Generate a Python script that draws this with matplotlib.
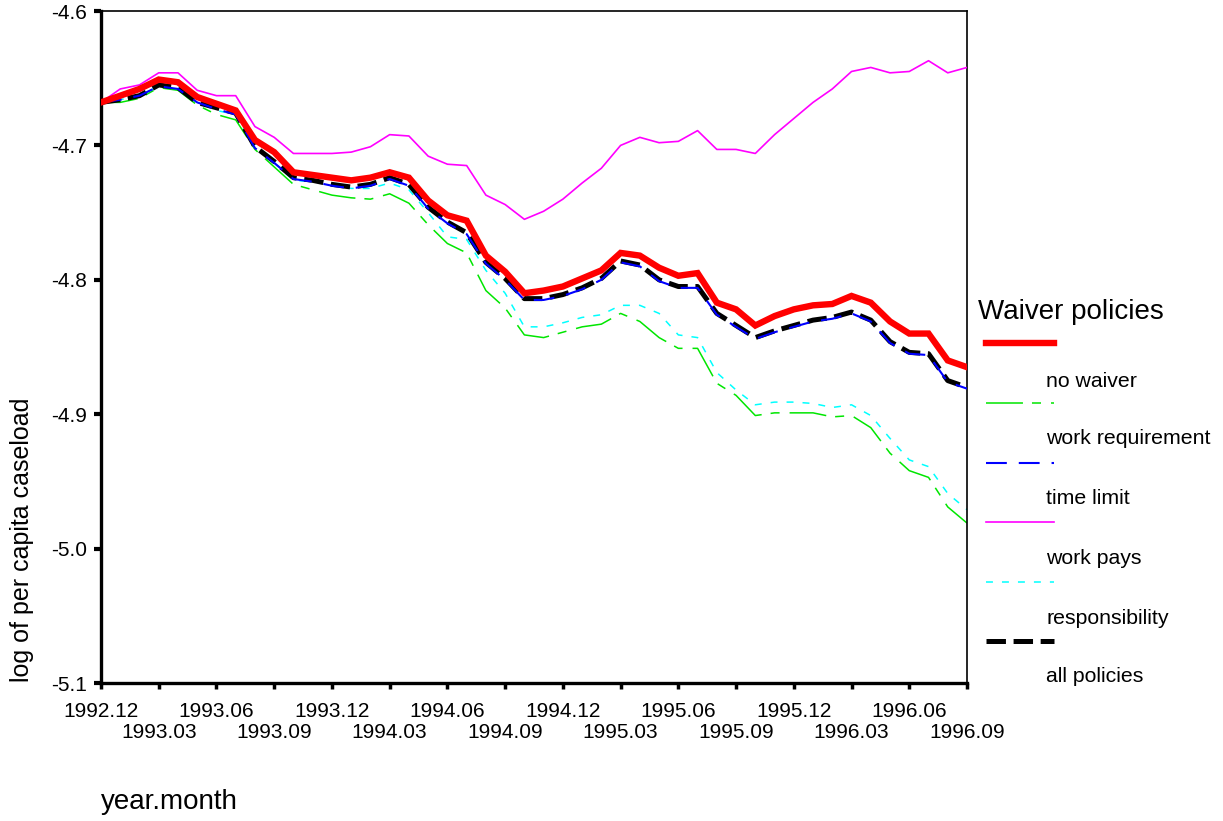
import numpy as np
import matplotlib
matplotlib.use("Agg")
import matplotlib.pyplot as plt
from matplotlib.lines import Line2D

plt.rcParams['font.family'] = ['Liberation Sans', 'DejaVu Sans']
plt.rcParams['lines.scale_dashes'] = False

# ---- data -------------------------------------------------------------
tick_labels = ["1992.12", "1993.03", "1993.06", "1993.09", "1993.12", "1994.03",
               "1994.06", "1994.09", "1994.12", "1995.03", "1995.06", "1995.09",
               "1995.12", "1996.03", "1996.06", "1996.09"]
n_months = 46

red_series = [-4.668, -4.663, -4.658, -4.651, -4.653, -4.664, -4.669, -4.674, -4.696, -4.705,
              -4.720, -4.722, -4.724, -4.726, -4.724, -4.720, -4.724, -4.741, -4.752, -4.756,
              -4.782, -4.794, -4.810, -4.808, -4.805, -4.799, -4.793, -4.780, -4.782, -4.791,
              -4.797, -4.795, -4.817, -4.822, -4.834, -4.827, -4.822, -4.819, -4.818, -4.812,
              -4.817, -4.831, -4.840, -4.840, -4.860, -4.865]

green_series = [-4.668, -4.668, -4.665, -4.657, -4.659, -4.670, -4.677, -4.681, -4.703, -4.716,
                -4.729, -4.733, -4.737, -4.739, -4.740, -4.736, -4.743, -4.759, -4.773, -4.780,
                -4.808, -4.821, -4.841, -4.843, -4.839, -4.835, -4.833, -4.825, -4.831, -4.843,
                -4.851, -4.851, -4.877, -4.886, -4.901, -4.899, -4.899, -4.899, -4.902, -4.901,
                -4.910, -4.929, -4.942, -4.947, -4.969, -4.981]

blue_series = [-4.668, -4.666, -4.663, -4.656, -4.658, -4.668, -4.673, -4.677, -4.702, -4.713,
               -4.725, -4.727, -4.730, -4.732, -4.730, -4.725, -4.730, -4.747, -4.758, -4.766,
               -4.788, -4.800, -4.815, -4.815, -4.812, -4.807, -4.800, -4.787, -4.790, -4.801,
               -4.806, -4.806, -4.826, -4.835, -4.844, -4.839, -4.835, -4.831, -4.829, -4.825,
               -4.831, -4.847, -4.855, -4.856, -4.876, -4.881]

magenta_series = [-4.668, -4.658, -4.655, -4.646, -4.646, -4.659, -4.663, -4.663, -4.686, -4.694,
                  -4.706, -4.706, -4.706, -4.705, -4.701, -4.692, -4.693, -4.708, -4.714, -4.715,
                  -4.737, -4.744, -4.755, -4.749, -4.740, -4.728, -4.717, -4.700, -4.694, -4.698,
                  -4.697, -4.689, -4.703, -4.703, -4.706, -4.692, -4.680, -4.668, -4.658, -4.645,
                  -4.642, -4.646, -4.645, -4.637, -4.646, -4.642]

cyan_series = [-4.668, -4.666, -4.663, -4.656, -4.657, -4.668, -4.674, -4.677, -4.702, -4.713,
               -4.726, -4.727, -4.729, -4.732, -4.732, -4.728, -4.733, -4.750, -4.768, -4.770,
               -4.793, -4.810, -4.835, -4.835, -4.832, -4.828, -4.826, -4.819, -4.819, -4.825,
               -4.841, -4.843, -4.869, -4.882, -4.893, -4.891, -4.891, -4.892, -4.895, -4.893,
               -4.901, -4.918, -4.934, -4.939, -4.959, -4.971]

black_series = [-4.668, -4.666, -4.663, -4.655, -4.657, -4.668, -4.672, -4.676, -4.701, -4.712,
                -4.724, -4.726, -4.729, -4.731, -4.729, -4.724, -4.729, -4.746, -4.757, -4.765,
                -4.787, -4.799, -4.814, -4.814, -4.811, -4.806, -4.799, -4.786, -4.789, -4.800,
                -4.805, -4.805, -4.825, -4.834, -4.843, -4.838, -4.834, -4.830, -4.828, -4.824,
                -4.830, -4.846, -4.854, -4.855, -4.875, -4.880]

legend_labels = ["no waiver", "work requirement", "time limit", "work pays",
                 "responsibility", "all policies"]

# ---- figure -------------------------------------------------------------
W, H = 1223, 821
fig = plt.figure(figsize=(W / 100, H / 100), dpi=100)
ax = fig.add_axes([101 / W, 1 - 683 / H, (967 - 101) / W, (683 - 11) / H])

x = np.arange(n_months)

ax.plot(x, black_series, color='black', lw=3.6, dashes=(14, 5.5), zorder=3)
ax.plot(x, blue_series, color='#0000ff', lw=1.5, dashes=(15, 8.6), zorder=4)
ax.plot(x, green_series, color='#00e600', lw=1.1, dashes=(26.6, 6.5, 6.5, 7.2), zorder=2)
ax.plot(x, cyan_series, color='#00ffff', lw=1.1, dashes=(5, 6.5), zorder=2)
ax.plot(x, magenta_series, color='#ff00ff', lw=1.2, zorder=5)
ax.plot(x, red_series, color='#ff0000', lw=4.6, zorder=6, solid_joinstyle='miter')

ax.set_xlim(0, n_months - 1)
ax.set_ylim(-5.1, -4.6)

tick_pos = np.arange(0, n_months, 3)
ax.set_xticks(tick_pos[::2])
ax.set_xticklabels(tick_labels[::2])
ax.set_xticks(tick_pos[1::2], minor=True)
ax.set_xticklabels(tick_labels[1::2], minor=True)

yt = [-5.1, -5.0, -4.9, -4.8, -4.7, -4.6]
ax.set_yticks(yt)
ax.set_yticklabels([f"{v:.1f}" for v in yt])

ax.tick_params(axis='x', which='major', length=4, width=2.5, pad=10, labelsize=15, direction='out')
ax.tick_params(axis='x', which='minor', length=4, width=2.5, pad=25, labelsize=15, direction='out')
ax.tick_params(axis='y', length=5, width=3, pad=5, labelsize=15, direction='out')

for side in ['left', 'bottom']:
    ax.spines[side].set_linewidth(2.4)
for side in ['top', 'right']:
    ax.spines[side].set_linewidth(1.2)

fig.text(22 / W, 1 - 540 / H, "log of per capita caseload", rotation=90,
         ha='center', va='center', fontsize=18)
fig.text(101 / W, 1 - 802 / H, "year.month", ha='left', va='center', fontsize=20)

# ---- legend (manual, as laid out in reference) ------------------------
fig.text(978 / W, 1 - 312 / H, "Waiver policies", ha='left', va='center', fontsize=20)

leg_styles = [
    dict(color='#ff0000', lw=4.6),
    dict(color='#00e600', lw=1.1, dashes=(26.6, 6.5, 6.5, 7.2)),
    dict(color='#0000ff', lw=1.5, dashes=(15, 8.6)),
    dict(color='#ff00ff', lw=1.2),
    dict(color='#00ffff', lw=1.1, dashes=(5, 6.5)),
    dict(color='black', lw=3.6, dashes=(14, 5.5)),
]
line_y = [343, 403, 463, 522, 582, 641]
label_y = [381, 438, 498, 558, 618, 677]
for st, ly in zip(leg_styles, line_y):
    fig.add_artist(Line2D([986 / W, 1054 / W], [1 - ly / H, 1 - ly / H],
                          transform=fig.transFigure, **st))
for lab, ty in zip(legend_labels, label_y):
    fig.text(1046 / W, 1 - ty / H, lab, ha='left', va='center', fontsize=15.3)

fig.savefig("out.png", dpi=100)
